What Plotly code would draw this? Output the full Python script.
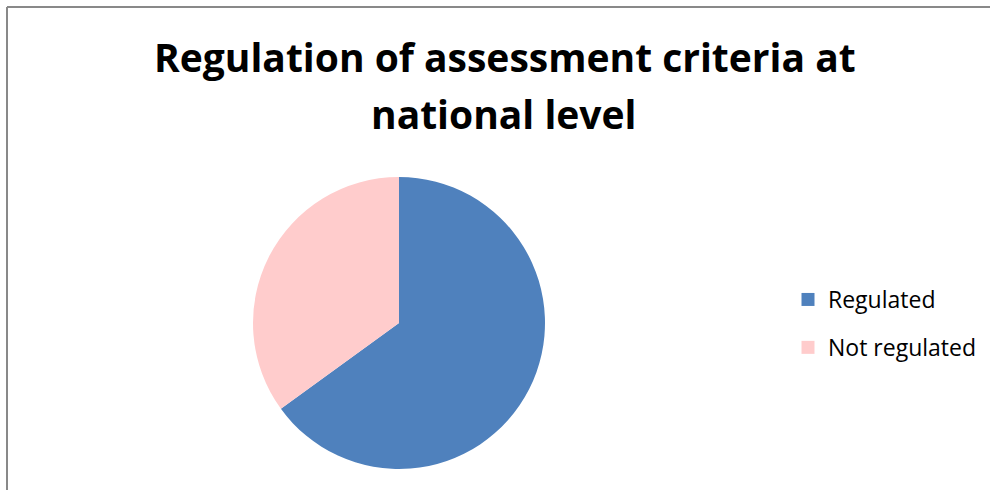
import plotly.graph_objects as go

title_lines = ["Regulation of assessment criteria at", "national level"]
labels = ["Regulated", "Not regulated"]
values = [65, 35]
colors = ["#4F81BD", "#FFCCCC"]

W, H = 990, 490
fig = go.Figure()

fig.add_trace(go.Pie(
    labels=labels, values=values, sort=False, direction="clockwise", rotation=0,
    marker=dict(colors=colors, line=dict(width=0)),
    textinfo="none", hoverinfo="label+percent", showlegend=False,
    domain=dict(x=[(399 - 146) / W, (399 + 146) / W], y=[(H - 323 - 146) / H, (H - 323 + 146) / H]),
))

for lab, col in zip(labels, colors):
    fig.add_trace(go.Scatter(
        x=[None], y=[None], mode="markers", name=lab, legendgroup=lab,
        marker=dict(symbol="square", size=13, color=col),
    ))

fig.add_annotation(text="<b>" + title_lines[0] + "</b>", x=505 / W, y=1 - 56 / H, xref="paper", yref="paper",
                   xanchor="center", yanchor="middle", showarrow=False,
                   font=dict(family="Open Sans", size=39, color="#000000"))
fig.add_annotation(text="<b>" + title_lines[1] + "</b>", x=504 / W, y=1 - 113 / H, xref="paper", yref="paper",
                   xanchor="center", yanchor="middle", showarrow=False,
                   font=dict(family="Open Sans", size=39, color="#000000"))

# frame: top and left edges only visible in the reference
fig.add_shape(type="line", xref="paper", yref="paper", x0=7 / W, x1=1.0, y0=1 - 7 / H, y1=1 - 7 / H,
              line=dict(color="#898989", width=2))
fig.add_shape(type="line", xref="paper", yref="paper", x0=7 / W, x1=7 / W, y0=0.0, y1=1 - 7 / H,
              line=dict(color="#898989", width=2))

fig.update_layout(
    width=W, height=H,
    margin=dict(l=0, r=0, t=0, b=0),
    paper_bgcolor="white", plot_bgcolor="white",
    xaxis=dict(visible=False), yaxis=dict(visible=False),
    legend=dict(x=788 / W, y=1 - 278 / H, xanchor="left", yanchor="top",
                font=dict(family="Open Sans", size=23, color="#000000"),
                tracegroupgap=15, bgcolor="rgba(0,0,0,0)"),
)

fig.write_html("out.html", config={"displayModeBar": False},
               post_script="document.body.style.margin='0px';"
                           "document.body.style.overflow='hidden';"
                           "document.documentElement.style.overflow='hidden';")
